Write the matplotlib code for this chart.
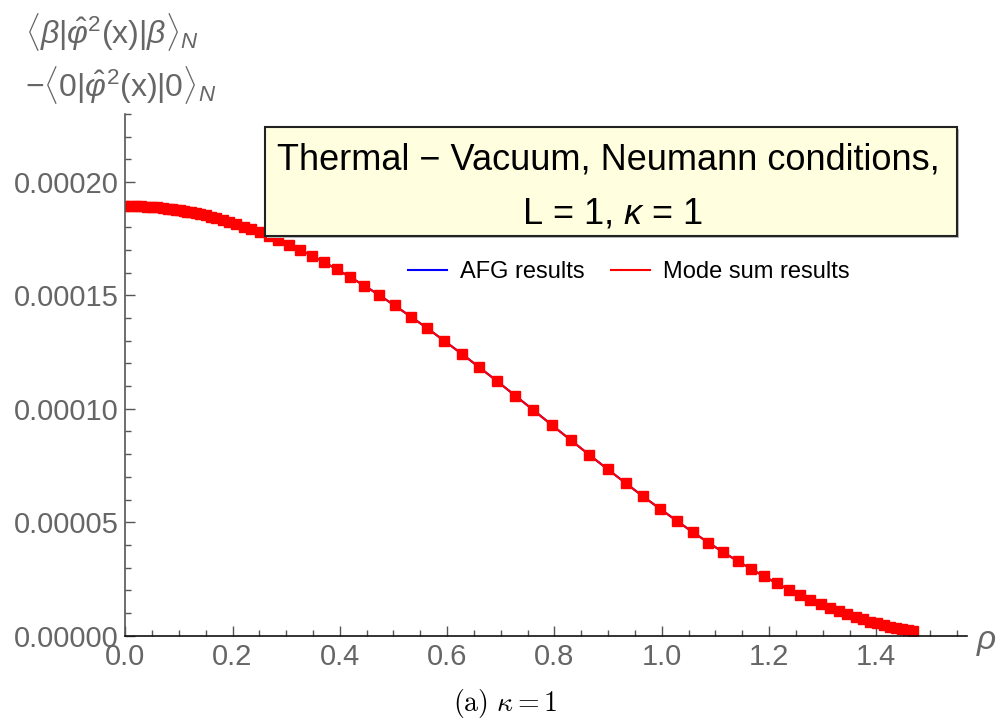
import matplotlib
matplotlib.use('Agg')
import matplotlib.pyplot as plt
from matplotlib.patches import Rectangle
from matplotlib.lines import Line2D
from matplotlib.ticker import MultipleLocator, FormatStrFormatter

plt.rcParams['font.family'] = ['Liberation Sans', 'DejaVu Sans']
plt.rcParams['mathtext.fontset'] = 'custom'
plt.rcParams['mathtext.rm'] = 'Liberation Sans'
plt.rcParams['mathtext.it'] = 'Liberation Sans:italic'
plt.rcParams['mathtext.bf'] = 'Liberation Sans:bold'
plt.rcParams['mathtext.sf'] = 'Liberation Sans'

# rho values of the plotted points and the thermal - vacuum difference (units of 1e-5)
rho = [0.000, 0.010, 0.020, 0.030, 0.040, 0.050, 0.060, 0.070, 0.080, 0.088,
       0.095, 0.102, 0.109, 0.116, 0.123, 0.132, 0.140, 0.150, 0.160, 0.170,
       0.182, 0.194, 0.207, 0.221, 0.235, 0.251, 0.268, 0.285, 0.306, 0.326,
       0.348, 0.371, 0.394, 0.419, 0.446, 0.473, 0.502, 0.532, 0.562, 0.594,
       0.627, 0.660, 0.693, 0.727, 0.761, 0.796, 0.830, 0.865, 0.899, 0.933,
       0.965, 0.997, 1.028, 1.058, 1.087, 1.115, 1.142, 1.167, 1.191, 1.214,
       1.237, 1.258, 1.277, 1.296, 1.314, 1.330, 1.346, 1.362, 1.375, 1.388,
       1.401, 1.414, 1.426, 1.437, 1.448, 1.459, 1.469]
diff = [18.95, 18.95, 18.94, 18.93, 18.92, 18.90, 18.88, 18.86, 18.83, 18.80,
        18.78, 18.75, 18.73, 18.70, 18.66, 18.62, 18.58, 18.53, 18.47, 18.41,
        18.33, 18.24, 18.15, 18.03, 17.92, 17.78, 17.62, 17.45, 17.23, 17.01,
        16.75, 16.46, 16.16, 15.81, 15.43, 15.02, 14.56, 14.07, 13.57, 13.01,
        12.43, 11.83, 11.22, 10.58, 9.94, 9.27, 8.63, 7.97, 7.34, 6.72,
        6.14, 5.59, 5.06, 4.56, 4.10, 3.67, 3.28, 2.93, 2.61, 2.31,
        2.03, 1.79, 1.59, 1.39, 1.22, 1.07, 0.94, 0.81, 0.71, 0.62,
        0.54, 0.46, 0.39, 0.33, 0.28, 0.23, 0.19]
vals = [d * 1e-5 for d in diff]

W, H = 1005, 726
fig = plt.figure(figsize=(W / 100, H / 100), dpi=100)
ax = fig.add_axes([125.2 / W, 1 - 635.6 / H, (967 - 125.2) / W, (635.6 - 114) / H])

ax.plot(rho, vals, color='blue', lw=1.5)
ax.plot(rho, vals, color='red', lw=1.5, marker='s', ms=7.5, mec='red', mfc='red')

ax.set_xlim(0, 1.569)
ax.set_ylim(0, 0.00023)
for s in ['top', 'right']:
    ax.spines[s].set_visible(False)
ax.spines['left'].set_color('#555555')
ax.spines['bottom'].set_color('#111111')
ax.spines['left'].set_linewidth(1.2)
ax.spines['bottom'].set_linewidth(1.2)

ax.xaxis.set_major_locator(MultipleLocator(0.2))
ax.xaxis.set_minor_locator(MultipleLocator(0.05))
ax.yaxis.set_major_locator(MultipleLocator(0.00005))
ax.yaxis.set_minor_locator(MultipleLocator(0.00001))
ax.xaxis.set_major_formatter(FormatStrFormatter('%.1f'))
ax.yaxis.set_major_formatter(FormatStrFormatter('%.5f'))
ax.tick_params(which='both', direction='in', color='#555555', labelcolor='#666666',
               labelsize=21, width=1)
ax.tick_params(which='major', length=7, pad=5)
ax.tick_params(which='minor', length=4)

handles = [Line2D([], [], color='blue', lw=1.5), Line2D([], [], color='red', lw=1.5)]
ax.legend(handles, ['AFG results', 'Mode sum results'], loc='center',
          bbox_to_anchor=(0.598, 0.697), ncol=2, frameon=False,
          fontsize=17, handlelength=1.65, handletextpad=0.55, columnspacing=1.1)

# title box
fig.patches.append(Rectangle((267 / W, 1 - 238 / H), 692 / W, 109 / H,
                             transform=fig.transFigure, fc='#bbbbbb', ec='none', zorder=5))
fig.patches.append(Rectangle((265 / W, 1 - 236 / H), 692 / W, 109 / H,
                             transform=fig.transFigure, fc='#FFFFE0', ec='#222222',
                             lw=1.5, zorder=6))
fig.text(608 / W, 1 - 170 / H, 'Thermal \u2212 Vacuum, Neumann conditions,',
         ha='center', va='baseline', fontsize=26, color='black', zorder=7)
fig.text(613 / W, 1 - 223 / H, r'L = 1, $\kappa$ = 1',
         ha='center', va='baseline', fontsize=26, color='black', zorder=7)

# axis labels
fig.text(25 / W, 1 - 32 / H, r'$\langle\beta|\hat{\varphi}^2(\mathrm{x})|\beta\rangle_N$',
         ha='left', va='center', fontsize=23, color='#666666')
fig.text(25 / W, 1 - 85 / H, r'$-\langle0|\hat{\varphi}^2(\mathrm{x})|0\rangle_N$',
         ha='left', va='center', fontsize=23, color='#666666')
fig.text(986 / W, 1 - 640 / H, '\u03c1', ha='center', va='center', fontsize=24,
         style='italic', color='#666666')

fig.text(505 / W, 1 - 703 / H, r'$\mathrm{(a)}\ \kappa = 1$', ha='center', va='center',
         fontsize=20, color='black', math_fontfamily='cm')

fig.savefig('out.png', dpi=100)
